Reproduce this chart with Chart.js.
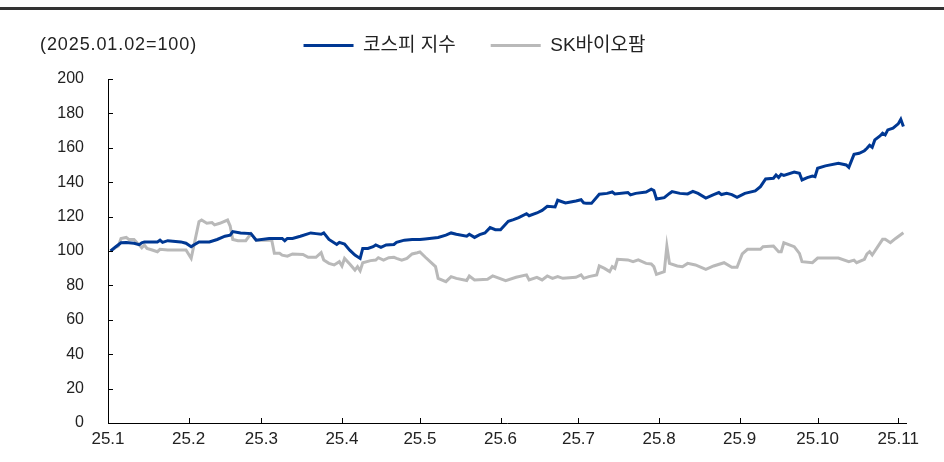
<!DOCTYPE html>
<html>
<head>
<meta charset="utf-8">
<script src="https://cdn.jsdelivr.net/npm/chart.js@4.4.1/dist/chart.umd.min.js"></script>
<style>
  body { margin: 0; background: #fff; }
  #wrap { position: relative; width: 944px; height: 462px; overflow: hidden; }
  #rule { position: absolute; left: 0; top: 7px; width: 944px; height: 3px; background: #333; }
  #base { position: absolute; left: 40px; top: 34px; font: 18px "Liberation Sans", "Noto Sans CJK KR", sans-serif; letter-spacing: 0.9px; color: #222; }
  canvas { position: absolute; left: 0; top: 0; }
</style>
</head>
<body>
<div id="wrap">
  <canvas id="chart" width="944" height="462"></canvas>
  <div id="rule"></div>
  <div id="base">(2025.01.02=100)</div>
</div>
<script>
// x = days since 2025-01-01, y = index (2025.01.02 = 100)
const kospi = [
  [1,100],[3,102.5],[5,104.8],[7,105],[10,104.5],[12,103.7],[13,104.8],[14,105.3],[19,105.3],[20,106.3],
  [21,105],[23,106],[28,105.3],[30,104.5],[32,102.5],[33,103.5],[35,105.3],[39,105.3],[42,106.7],[45,108.6],
  [47,109.2],[48,111.3],[51,110.5],[55,110.1],[57,106.3],[62,107.3],[67,107.3],[68,106],[69,107.3],[71,107.3],
  [74,108.6],[78,110.5],[80,110.1],[82,109.7],[83,110.5],[85,106.7],[88,103.8],[89,105],[91,104],[93,100.5],
  [95,97.6],[97,95.7],[98,101.5],[100,101.5],[102,102.5],[103,103.5],[105,102.1],[107,103.5],[110,103.8],[111,105],
  [114,106.3],[117,106.7],[120,106.7],[122,107],[127,107.9],[130,109.2],[132,110.5],[134,109.7],[138,108.6],[139,109.7],
  [141,107.9],[143,109.5],[145,110.5],[147,113.6],[149,112.4],[151,112.4],[154,117.3],[156,118.2],[158,119.4],[161,121.7],
  [162,120.5],[165,122.1],[167,123.6],[169,126],[172,125.6],[173,129.5],[176,127.9],[178,128.5],[180,129.1],[182,129.8],
  [183,128],[184,127.7],[186,127.7],[189,133],[192,133.5],[194,134.3],[195,133.2],[200,134],[201,132.6],[203,133.5],
  [207,134.3],[209,135.9],[210,135.1],[211,130.2],[214,131],[216,133.5],[217,134.5],[220,133.5],[223,133.2],[225,134.7],
  [227,133.5],[230,130.8],[233,132.8],[235,134],[236,132.8],[238,133.5],[240,132.8],[242,131.2],[245,133.5],[249,134.9],
  [251,137.4],[253,141.9],[256,142.3],[257,144.2],[258,142.7],[259,144.6],[260,144],[264,145.9],[266,145.2],[267,141.3],
  [269,142.7],[271,143.6],[272,143.2],[273,148.1],[276,149.5],[281,151],[284,150],[285,148.6],[287,156.2],[289,156.8],
  [291,158.3],[292,159.7],[293,161.5],[294,160.3],[295,164.6],[297,166.9],[298,168.5],[299,167.5],[300,170.4],[302,171.4],
  [304,173.9],[305,176.6],[306,172.4]
]

const skBiopharm = [
  [1,100],[3,102],[4,102.9],[5,107.3],[7,107.9],[8,106.7],[10,106.7],[12,103.5],[13,101.9],[14,103.5],
  [15,101.5],[17,100.6],[19,99.6],[20,101],[23,100.6],[30,100.6],[32,95.7],[35,117.1],[36,118],[38,116.1],
  [40,116.5],[41,115.2],[43,116.1],[46,118],[47,114.5],[48,106.7],[50,106],[53,106],[55,110.1],[57,106.3],
  [63,106.3],[64,98.7],[66,98.7],[67,97.6],[69,97],[71,98.3],[75,98],[77,96.3],[80,96.3],[82,99],
  [83,94.7],[85,92.8],[87,91.9],[89,93.8],[90,91.3],[91,95.7],[93,92.4],[95,88.9],[96,90.9],[97,88.5],
  [98,93.2],[101,94.4],[103,94.7],[104,96.1],[106,94.7],[108,96.1],[110,96.3],[111,95.7],[113,94.7],[115,95.7],
  [117,98.3],[119,99],[120,99.5],[122,96.5],[126,90.9],[127,84.1],[130,82.2],[132,85.1],[134,84.1],[138,82.8],
  [139,85.5],[141,83.2],[146,83.6],[148,85.5],[153,82.8],[157,84.7],[161,86.1],[162,83.2],[165,84.7],[167,83.2],
  [169,85.5],[171,84.1],[173,85.1],[175,84.1],[180,84.7],[182,86.1],[183,84.1],[185,85.1],[188,86],[189,91.3],
  [191,89.9],[193,88],[194,90.9],[195,89.9],[196,95.2],[200,94.8],[202,93.8],[204,94.8],[207,92.8],[209,92.5],
  [210,90.9],[211,86.4],[214,88],[215,102.9],[216,92.8],[219,91.3],[221,90.9],[223,92.8],[226,91.9],[230,89.3],
  [233,91.3],[237,93.2],[240,90.5],[242,90.5],[244,98.3],[246,101],[251,101],[252,102.5],[256,102.9],[258,99.6],
  [259,99.6],[260,104.8],[264,102.5],[266,98.6],[267,93.8],[271,93.2],[273,95.9],[281,95.9],[285,93.8],[287,94.7],
  [288,93.2],[291,95.2],[292,98.3],[293,99.6],[294,97.7],[298,106.8],[299,106.8],[301,104.8],[303,107.3],[306,110.6]
]

// first day of each month (days since 2025-01-01) and its label
const monthDays = [0, 31, 59, 90, 120, 151, 181, 212, 243, 273, 304]
const monthLabels = ['25.1', '25.2', '25.3', '25.4', '25.5', '25.6', '25.7', '25.8', '25.9', '25.10', '25.11']

const seriesNames = ['코스피 지수', 'SK바이오팜']
const yTicks = { min: 0, max: 200, step: 20 }

const family = '"Liberation Sans", "Noto Sans CJK KR", sans-serif'

// short tick marks pointing into the plot area
const innerTicks = {
    id: 'innerTicks',
    afterDraw(chart) {
        const { ctx, chartArea: a, scales: { x, y } } = chart
        ctx.save()
        ctx.strokeStyle = '#000'
        ctx.lineWidth = 1
        ctx.beginPath()
        y.ticks.forEach(t => {
            const py = Math.round(y.getPixelForValue(t.value)) + 0.5
            ctx.moveTo(a.left, py)
            ctx.lineTo(a.left + 5, py)
        })
        x.ticks.forEach(t => {
            const px = Math.round(x.getPixelForValue(t.value)) + 0.5
            ctx.moveTo(px, a.bottom)
            ctx.lineTo(px, a.bottom - 5)
        })
        ctx.stroke()
        ctx.restore()
    }
}

const toPoints = arr => arr.map(([x, y]) => ({ x, y }))

new Chart(document.getElementById('chart'), {
    type: 'line',
    data: {
        datasets: [
            {
                label: seriesNames[0],
                data: toPoints(kospi),
                borderColor: '#003893',
                backgroundColor: '#003893',
                borderWidth: 3,
                pointRadius: 0,
                tension: 0
            },
            {
                label: seriesNames[1],
                data: toPoints(skBiopharm),
                borderColor: '#b9b9b9',
                backgroundColor: '#b9b9b9',
                borderWidth: 3,
                pointRadius: 0,
                tension: 0
            }
        ]
    },
    options: {
        responsive: false,
        animation: false,
        devicePixelRatio: 1,
        layout: { padding: { left: 43, right: 38, top: 1, bottom: 0 } },
        plugins: {
            tooltip: { enabled: false },
            legend: {
                position: 'top',
                labels: {
                    font: { family, size: 19 },
                    color: '#222',
                    boxWidth: 50,
                    boxHeight: 0,
                    padding: 35
                }
            },
            // empty spacer between the legend and the plot
            title: {
                display: true,
                text: '',
                weight: 500,
                padding: 0,
                font: { size: 14, lineHeight: 1 }
            }
        },
        scales: {
            x: {
                type: 'linear',
                min: 0,
                max: 307,
                afterBuildTicks: s => { s.ticks = monthDays.map(v => ({ value: v })) },
                afterFit: s => { s.height = 39 },
                ticks: {
                    callback: (v, i) => monthLabels[i],
                    autoSkip: false,
                    maxRotation: 0,
                    padding: 6,
                    color: '#222',
                    font: { family, size: 17 }
                },
                grid: { display: false, drawTicks: false },
                border: { display: true, color: '#000', width: 1 }
            },
            y: {
                min: yTicks.min,
                max: yTicks.max,
                afterFit: s => { s.width = 65 },
                ticks: {
                    stepSize: yTicks.step,
                    padding: 24,
                    color: '#222',
                    font: { family, size: 16 }
                },
                grid: { display: false, drawTicks: false },
                border: { display: true, color: '#000', width: 1 }
            }
        }
    },
    plugins: [innerTicks]
})
</script>
</body>
</html>
